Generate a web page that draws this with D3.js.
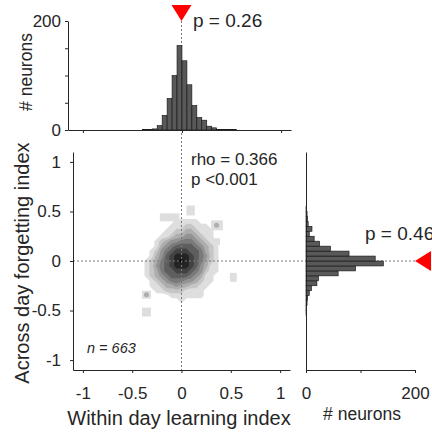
<!DOCTYPE html>
<html>
<head>
<meta charset="utf-8">
<script src="https://cdn.jsdelivr.net/npm/d3@7"></script>
<style>
  body { margin: 0; background: #fff; overflow: hidden; }
  svg { display: block; font-family: "Liberation Sans", Arial, sans-serif; }
  text { fill: #262626; }
</style>
</head>
<body>
<div id="chart"></div>
<script>
// Top histogram: within day learning index (bin lower edges, counts)
const topBinStart = [-0.40, -0.35, -0.30, -0.25, -0.20, -0.15, -0.10, -0.05, 0.00, 0.05,
                     0.10, 0.15, 0.20, 0.25, 0.30, 0.35, 0.40, 0.45, 0.50];
const topCounts = [1, 1, 2, 8, 27, 58, 100, 155, 127, 83, 45, 23, 18, 7, 4, 1, 1, 1, 1];

// Right histogram: across day forgetting index
const rightBinStart = [-0.55, -0.50, -0.45, -0.40, -0.35, -0.30, -0.25, -0.20, -0.15, -0.10, -0.05,
                       0.00, 0.05, 0.10, 0.15, 0.20, 0.25, 0.30, 0.35, 0.40, 0.45, 0.50];
const rightCounts = [1, 1, 2, 3, 6, 10, 20, 23, 59, 91, 142, 127, 79, 45, 25, 15, 6, 11, 4, 3, 2, 1];
const binWidth = 0.05;

// Density levels on a 0.05 grid (columns x = -0.45 .. 0.50, rows y = 0.50 .. -0.55)
const densityX0 = -0.45, densityY0 = 0.50, densityStep = 0.05;
const densityRows = [
  "00000000000000000000",
  "00000000000000000000",
  "00000000111110000000",
  "00000001112211100000",
  "00000011223321110000",
  "00000112334432110000",
  "00001234455543210000",
  "00001345666654321000",
  "00012456777665321000",
  "00013467888765421000",
  "00123567898765321000",
  "00124567888764311000",
  "00123566777654211000",
  "00123456666543110000",
  "00012345554432110000",
  "00011233433221100000",
  "00001122221111000000",
  "00000001111111000000",
  "00000000010000000000",
  "00000000000000000000",
  "00000000000000000000",
  "00000000000000000000"
];
const densityLevels = [1, 2, 3, 4, 5, 6, 7, 8, 9];
const grays = ["#dedede", "#c6c6c6", "#adadad", "#939393", "#7a7a7a", "#5e5e5e", "#424242", "#242424", "#000000"];

// isolated low-density patches [x0, x1, y0, y1] and small dots inside them
const patches = [
  [-0.22, -0.02, 0.40, 0.48],
  [0.05, 0.135, 0.46, 0.56],
  [0.30, 0.42, 0.31, 0.41],
  [0.32, 0.39, 0.16, 0.23],
  [0.49, 0.56, -0.21, -0.12],
  [-0.40, -0.31, -0.38, -0.30],
  [-0.40, -0.31, -0.56, -0.47]
];
const patchDots = [[0.355, 0.36], [-0.355, -0.34]];

const xTicks = [-1, -0.5, 0, 0.5, 1];
const yTicks = [-1, -0.5, 0, 0.5, 1];
const topXTicks = [-1, 0, 1];
const countTicks = [0, 50, 100, 150, 200];
const rightCountTicks = [0, 100, 200];
const countLabels = [0, 200];
const xMedian = 0, yMedian = 0;

const statLines = ["rho = 0.366", "p <0.001"];
const pTop = "p = 0.26";
const pRight = "p = 0.46";
const nLabel = "n = 663";

const W = 432, H = 433;
const svg = d3.select("#chart").append("svg").attr("width", W).attr("height", H);

// scales
const x = d3.scaleLinear().domain([-1.1, 1.1]).range([73, 290]);
const y = d3.scaleLinear().domain([-1.1, 1.1]).range([370, 152]);
const xTop = d3.scaleLinear().domain([-1.15, 1.1]).range([68, 291]);
const cTop = d3.scaleLinear().domain([0, 200]).range([130, 21]);
const cRight = d3.scaleLinear().domain([0, 200]).range([306, 415]);

function styleAxis(g, size) {
  g.select(".domain").attr("stroke", "#262626").attr("stroke-width", 1);
  g.selectAll(".tick line").attr("stroke", "#262626");
  g.selectAll(".tick text").attr("font-size", size).attr("fill", "#262626")
    .attr("font-family", "'Liberation Sans', Arial, sans-serif");
}

// density patches
svg.append("g").selectAll("rect")
  .data(patches)
  .join("rect")
  .attr("x", d => x(d[0]))
  .attr("y", d => y(d[3]))
  .attr("width", d => x(d[1]) - x(d[0]))
  .attr("height", d => y(d[2]) - y(d[3]))
  .attr("fill", grays[0]);

svg.append("g").selectAll("circle")
  .data(patchDots)
  .join("circle")
  .attr("cx", d => x(d[0]))
  .attr("cy", d => y(d[1]))
  .attr("r", 2.5)
  .attr("fill", grays[2]);

// density contours
const nCols = densityRows[0].length, nRows = densityRows.length;
const values = densityRows.flatMap(r => r.split("").map(Number));
const contours = d3.contours()
  .size([nCols, nRows])
  .thresholds(densityLevels.map(l => l - 0.5))(values);
const gridProj = d3.geoTransform({
  point: function(gx, gy) {
    this.stream.point(x(densityX0 + (gx - 0.5) * densityStep),
                      y(densityY0 - (gy - 0.5) * densityStep));
  }
});
const gridPath = d3.geoPath(gridProj);
svg.append("g").selectAll("path")
  .data(contours)
  .join("path")
  .attr("d", gridPath)
  .attr("fill", (d, i) => grays[i])
  .attr("stroke", "none");

// dotted median lines
svg.append("line")
  .attr("x1", x(xMedian)).attr("x2", x(xMedian))
  .attr("y1", cTop(200)).attr("y2", y.range()[0])
  .attr("stroke", "#7a7a7a").attr("stroke-dasharray", "2,2");
svg.append("line")
  .attr("x1", x.range()[0]).attr("x2", cRight(200))
  .attr("y1", y(yMedian)).attr("y2", y(yMedian))
  .attr("stroke", "#7a7a7a").attr("stroke-dasharray", "2,2");

// top histogram bars
svg.append("g").selectAll("rect")
  .data(topBinStart)
  .join("rect")
  .attr("x", d => xTop(d))
  .attr("width", d => xTop(d + binWidth) - xTop(d))
  .attr("y", (d, i) => cTop(topCounts[i]))
  .attr("height", (d, i) => cTop(0) - cTop(topCounts[i]))
  .attr("fill", "#595959")
  .attr("stroke", "#111")
  .attr("stroke-width", 0.6);

// right histogram bars
svg.append("g").selectAll("rect")
  .data(rightBinStart)
  .join("rect")
  .attr("x", cRight(0))
  .attr("width", (d, i) => cRight(rightCounts[i]) - cRight(0))
  .attr("y", d => y(d + binWidth))
  .attr("height", d => y(d) - y(d + binWidth))
  .attr("fill", "#595959")
  .attr("stroke", "#111")
  .attr("stroke-width", 0.6);

// main axes
const gx = svg.append("g")
  .attr("transform", `translate(0,${y.range()[0]})`)
  .call(d3.axisBottom(x).tickValues(xTicks).tickSize(3).tickSizeOuter(0)
    .tickPadding(14).tickFormat(d => String(d)));
styleAxis(gx, 17);

const gy = svg.append("g")
  .attr("transform", `translate(${x.range()[0]},0)`)
  .call(d3.axisLeft(y).tickValues(yTicks).tickSize(3).tickSizeOuter(0)
    .tickPadding(9).tickFormat(d => String(d)));
styleAxis(gy, 17);

// top histogram axes
const gtx = svg.append("g")
  .attr("transform", `translate(0,${cTop(0)})`)
  .call(d3.axisBottom(xTop).tickValues(topXTicks).tickSize(3).tickSizeOuter(0).tickFormat(""));
styleAxis(gtx, 17);

const gty = svg.append("g")
  .attr("transform", `translate(${xTop.range()[0]},0)`)
  .call(d3.axisLeft(cTop).tickValues(countTicks).tickSize(3).tickSizeOuter(0)
    .tickPadding(4).tickFormat(d => countLabels.includes(d) ? String(d) : ""));
styleAxis(gty, 17);

// right histogram axes
const grx = svg.append("g")
  .attr("transform", `translate(0,${y.range()[0]})`)
  .call(d3.axisBottom(cRight).tickValues(rightCountTicks).tickSize(3).tickSizeOuter(0)
    .tickPadding(14).tickFormat(d => countLabels.includes(d) ? String(d) : ""));
styleAxis(grx, 17);

const gry = svg.append("g")
  .attr("transform", `translate(${cRight(0)},0)`)
  .call(d3.axisLeft(y).tickValues([]).tickSizeOuter(0));
styleAxis(gry, 17);

// median markers
const tri = 10, triH = 16;
svg.append("path")
  .attr("d", `M${x(xMedian)},${cTop(200)} L${x(xMedian) - tri},${cTop(200) - triH} L${x(xMedian) + tri},${cTop(200) - triH} Z`)
  .attr("fill", "#ff0000");
svg.append("path")
  .attr("d", `M${cRight(200)},${y(yMedian)} L${cRight(200) + triH},${y(yMedian) - tri} L${cRight(200) + triH},${y(yMedian) + tri} Z`)
  .attr("fill", "#ff0000");

// labels
svg.append("text")
  .attr("x", 179).attr("y", 425)
  .attr("text-anchor", "middle")
  .style("font-size", "20px")
  .text("Within day learning index");

svg.append("text")
  .attr("transform", "translate(29,263) rotate(-90)")
  .attr("text-anchor", "middle")
  .style("font-size", "20px")
  .text("Across day forgetting index");

svg.append("text")
  .attr("transform", "translate(32,72) rotate(-90)")
  .attr("text-anchor", "middle")
  .style("font-size", "17.5px")
  .text("# neurons");

svg.append("text")
  .attr("x", 362).attr("y", 420)
  .attr("text-anchor", "middle")
  .style("font-size", "17.5px")
  .text("# neurons");

svg.append("text")
  .attr("x", 193).attr("y", 27)
  .style("font-size", "19px")
  .text(pTop);

svg.append("text")
  .attr("x", 365).attr("y", 240)
  .style("font-size", "19px")
  .text(pRight);

svg.append("g").selectAll("text")
  .data(statLines)
  .join("text")
  .attr("x", 191)
  .attr("y", (d, i) => 165 + i * 19.5)
  .style("font-size", "17px")
  .text(d => d);

svg.append("text")
  .attr("x", 87).attr("y", 353)
  .style("font-size", "14.5px")
  .style("font-style", "italic")
  .text(nLabel);
</script>
</body>
</html>
